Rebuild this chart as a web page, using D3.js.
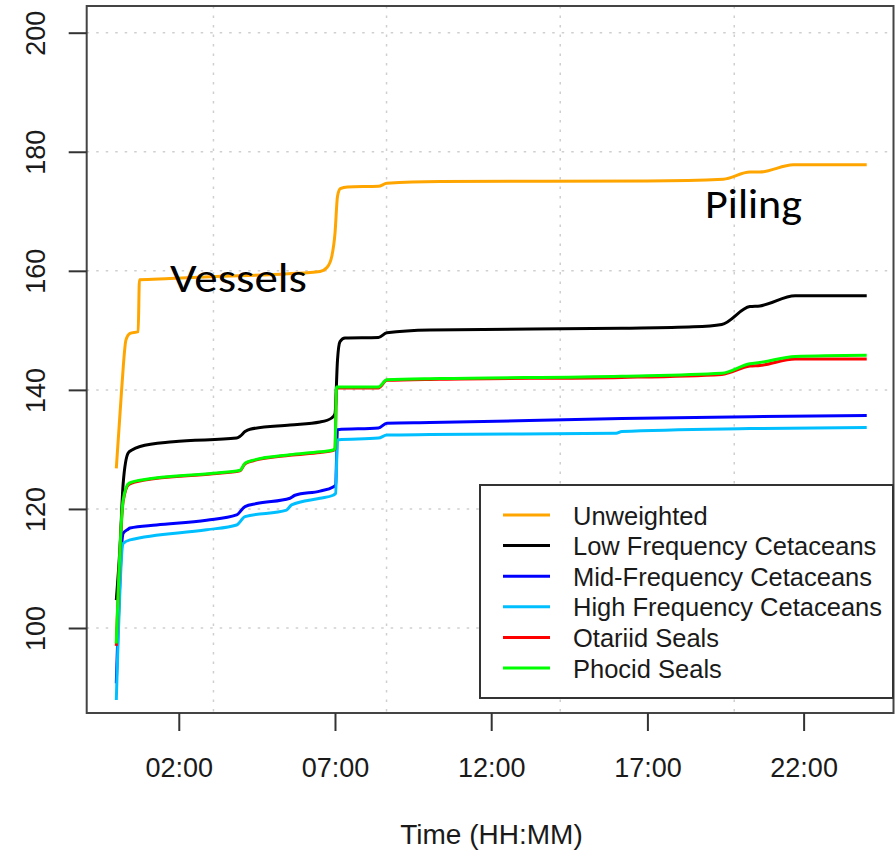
<!DOCTYPE html>
<html>
<head>
<meta charset="utf-8">
<script src="https://cdn.jsdelivr.net/npm/d3@7"></script>
<style>
  body { margin: 0; background: #fff; }
  svg { display: block; }
</style>
</head>
<body>
<div id="chart"></div>
<script>
// données : [heure, niveau]
const unweighted = [[0,126.8],[0.17,140],[0.31,148.4],[0.44,149.5],[0.70,149.8],[0.74,158.5],[1.72,158.7],[3,159.0],[5.5,159.5],[6.52,159.9],[6.75,160.6],[6.9,162.5],[7.0,166.3],[7.08,172.5],[7.17,173.8],[7.4,174.1],[8.39,174.2],[8.66,174.7],[10.36,175.0],[17,175.1],[19.43,175.4],[20.28,176.6],[20.6,176.6],[21.67,177.8],[24.02,177.8]];
const lowFreq = [[0,104.7],[0.12,113.7],[0.22,124.3],[0.38,129.4],[0.5,129.9],[0.76,130.5],[1.82,131.3],[3.85,131.9],[3.96,132.2],[4.12,133.0],[4.28,133.4],[5.56,134.1],[6.52,134.6],[6.9,135.3],[7.0,136.0],[7.08,145.0],[7.16,148.1],[7.32,148.7],[8.39,148.8],[8.66,149.6],[10.04,150.06],[16.18,150.35],[18.47,150.6],[19.38,151.0],[20.28,154.0],[20.6,154.1],[21.73,155.8],[24.02,155.8]];
const midFreq = [[0,90.7],[0.22,115.9],[0.38,116.6],[0.44,116.8],[1.29,117.3],[2.89,118.1],[3.85,119.0],[4.12,120.4],[4.49,120.9],[5.56,121.8],[5.72,122.3],[6.52,123.0],[6.94,123.7],[7.02,124.0],[7.08,133.3],[8.39,133.6],[8.66,134.4],[10.04,134.5],[16.18,135.2],[20.28,135.5],[24.02,135.7]];
const highFreq = [[0,87.9],[0.22,114.2],[0.44,114.8],[2.89,116.5],[3.85,117.3],[4.12,118.7],[5.45,119.8],[5.61,120.7],[6.52,121.8],[6.94,122.3],[7.02,122.6],[7.08,131.6],[8.39,131.9],[8.66,132.4],[10.04,132.5],[16.0,132.7],[16.18,133.0],[20.28,133.5],[24.02,133.7]];
const otariid = [[0,97.0],[0.22,121.3],[0.4,124.1],[0.86,124.8],[3.1,125.9],[3.96,126.4],[4.12,127.6],[4.39,128.1],[5.56,129.0],[6.52,129.5],[6.94,129.8],[7.0,130.1],[7.05,140.3],[8.39,140.3],[8.66,141.6],[10.36,141.8],[16.18,142.1],[19.38,142.6],[20.28,144.0],[20.6,144.1],[21.73,145.2],[24.02,145.2]];
const phocid = [[0,97.4],[0.22,121.5],[0.4,124.3],[0.86,124.9],[3.1,126.0],[3.96,126.5],[4.12,127.7],[4.39,128.2],[5.56,129.1],[6.52,129.6],[6.94,129.9],[7.0,130.2],[7.05,140.5],[8.39,140.5],[8.66,141.7],[10.36,141.9],[16.18,142.3],[19.38,142.8],[20.28,144.4],[20.6,144.6],[21.73,145.6],[24.02,145.8]];

const seriesNames = ["Unweighted", "Low Frequency Cetaceans", "Mid-Frequency Cetaceans", "High Frequency Cetaceans", "Otariid Seals", "Phocid Seals"];
const seriesColors = ["#ffa500", "#000000", "#0000ff", "#00bfff", "#ff0000", "#00ff00"];
const seriesData = [unweighted, lowFreq, midFreq, highFreq, otariid, phocid];

const hourTicks = [2, 7, 12, 17, 22];
const hourLabels = ["02:00", "07:00", "12:00", "17:00", "22:00"];
const levelTicks = [100, 120, 140, 160, 180, 200];
const gridHours = [3.11, 8.65, 14.21, 19.78];

const annotations = [
    { text: "Vessels", h: 1.72, v: 158.7 },
    { text: "Piling", h: 18.82, v: 170.6 }
];

// dimensions
const W = 895, H = 851;
const box = { left: 86.7, top: 6, right: 893.5, bottom: 713 };

const svg = d3.select("#chart").append("svg")
    .attr("width", W)
    .attr("height", H);

// échelles
const x = d3.scaleLinear().domain([0, 24]).range([116.3, 866.1]);
const y = d3.scaleLinear().domain([100, 200]).range([628, 32.7]);

// grille pointillée
svg.append("g").selectAll("line")
    .data(levelTicks)
    .join("line")
    .attr("x1", box.left).attr("x2", box.right)
    .attr("y1", d => y(d)).attr("y2", d => y(d))
    .attr("stroke", "#cfcfcf").attr("stroke-width", 1.5)
    .attr("stroke-dasharray", "2.5,7");

svg.append("g").selectAll("line")
    .data(gridHours)
    .join("line")
    .attr("x1", d => x(d)).attr("x2", d => x(d))
    .attr("y1", box.top).attr("y2", box.bottom)
    .attr("stroke", "#cfcfcf").attr("stroke-width", 1.5)
    .attr("stroke-dasharray", "2.5,7");

// courbes
const line = d3.line()
    .x(d => x(d[0]))
    .y(d => y(d[1]))
    .curve(d3.curveMonotoneX);

svg.append("g").selectAll("path")
    .data(seriesData)
    .join("path")
    .attr("d", line)
    .attr("fill", "none")
    .attr("stroke", (d, i) => seriesColors[i])
    .attr("stroke-width", 3)
    .attr("stroke-linejoin", "round");

// cadre
svg.append("rect")
    .attr("x", box.left).attr("y", box.top)
    .attr("width", box.right - box.left)
    .attr("height", box.bottom - box.top)
    .attr("fill", "none")
    .attr("stroke", "#444")
    .attr("stroke-width", 2);

// axe x
const xAxis = svg.append("g")
    .attr("transform", "translate(0," + box.bottom + ")")
    .call(d3.axisBottom(x)
        .tickValues(hourTicks)
        .tickFormat((d, i) => hourLabels[i])
        .tickSize(18)
        .tickPadding(26.5));
xAxis.select(".domain").remove();
xAxis.selectAll("line").attr("stroke", "#333").attr("stroke-width", 2);
xAxis.selectAll("text")
    .attr("fill", "#1a1a1a")
    .style("font-family", "'Liberation Sans', Arial, sans-serif")
    .style("font-size", "27px");

// axe y
const yAxis = svg.append("g")
    .attr("transform", "translate(" + box.left + ",0)")
    .call(d3.axisLeft(y).tickValues(levelTicks).tickSize(18));
yAxis.select(".domain").remove();
yAxis.selectAll("line").attr("stroke", "#333").attr("stroke-width", 2);
yAxis.selectAll("text")
    .attr("x", 0).attr("dy", 0)
    .attr("transform", "translate(" + (45 - box.left) + ",0) rotate(-90)")
    .attr("text-anchor", "middle")
    .attr("fill", "#1a1a1a")
    .style("font-family", "'Liberation Sans', Arial, sans-serif")
    .style("font-size", "27px");

// titre de l'axe
svg.append("text")
    .attr("x", 491.5).attr("y", 844)
    .attr("text-anchor", "middle")
    .attr("fill", "#1a1a1a")
    .style("font-family", "'Liberation Sans', Arial, sans-serif")
    .style("font-size", "28px")
    .text("Time (HH:MM)");

// annotations
svg.append("g").selectAll("text")
    .data(annotations)
    .join("text")
    .attr("x", (d, i) => i === 0 ? 170 : 705)
    .attr("y", (d, i) => i === 0 ? 291.7 : 218.3)
    .attr("textLength", (d, i) => i === 0 ? 137 : 97)
    .attr("lengthAdjust", "spacingAndGlyphs")
    .attr("fill", "#000")
    .style("font-family", "Carlito, Lato, 'Open Sans', sans-serif")
    .style("font-size", "42px")
    .text(d => d.text);

// légende
const legend = svg.append("g");
legend.append("rect")
    .attr("x", 480).attr("y", 485)
    .attr("width", 413).attr("height", 213)
    .attr("fill", "#fff")
    .attr("stroke", "#333")
    .attr("stroke-width", 2);

const rows = legend.selectAll("g.row")
    .data(seriesNames)
    .join("g")
    .attr("class", "row")
    .attr("transform", (d, i) => "translate(0," + (515 + i * 30.6) + ")");

rows.append("line")
    .attr("x1", 503).attr("x2", 550)
    .attr("stroke", (d, i) => seriesColors[i])
    .attr("stroke-width", 3);

rows.append("text")
    .attr("x", 573).attr("y", 9.5)
    .attr("fill", "#1a1a1a")
    .style("font-family", "'Liberation Sans', Arial, sans-serif")
    .style("font-size", "25.5px")
    .text(d => d);
</script>
</body>
</html>
